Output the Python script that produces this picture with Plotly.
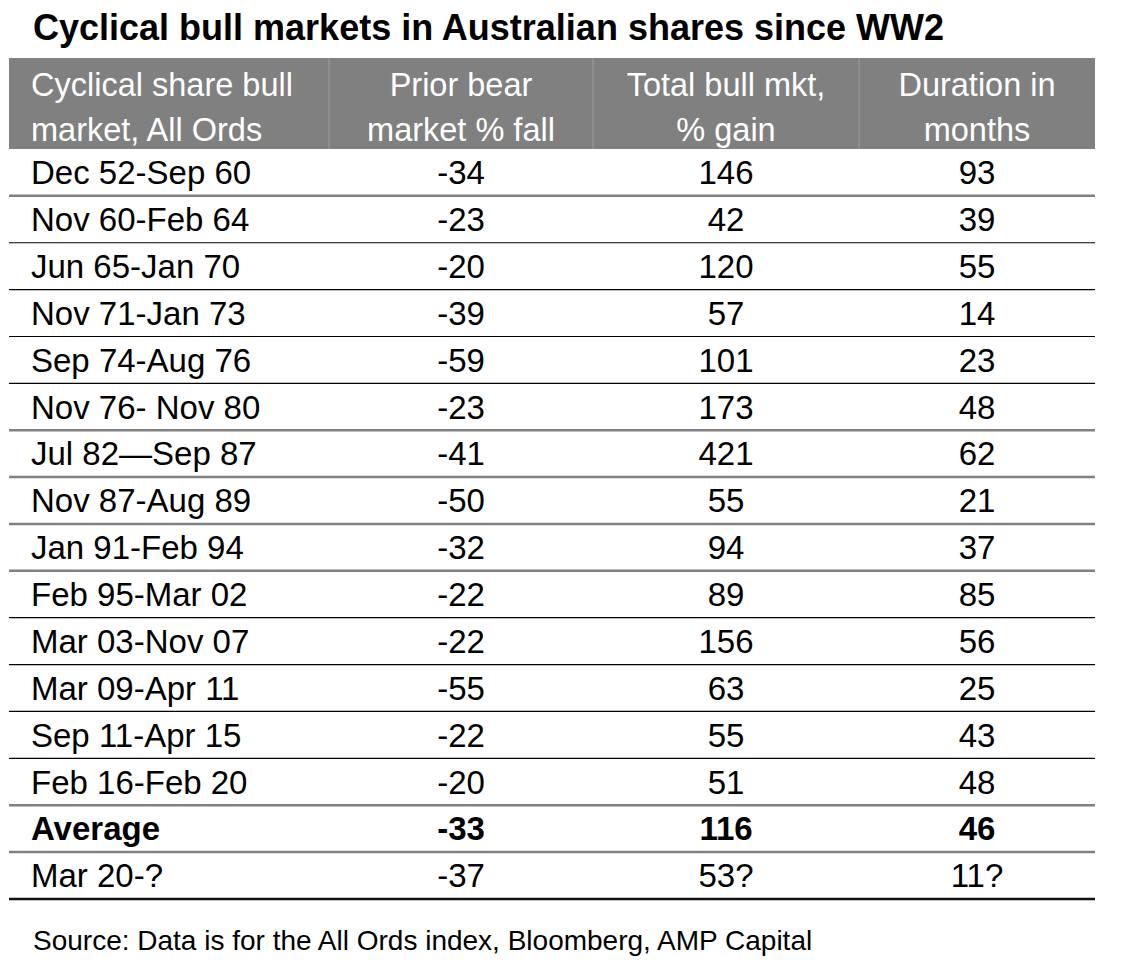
import plotly.graph_objects as go

# 表格数据
title = "Cyclical bull markets in Australian shares since WW2"
source = "Source: Data is for the All Ords index, Bloomberg, AMP Capital"
header_line1 = ["Cyclical share bull", "Prior bear", "Total bull mkt,", "Duration in"]
header_line2 = ["market, All Ords", "market % fall", "% gain", "months"]

periods = ["Dec 52-Sep 60", "Nov 60-Feb 64", "Jun 65-Jan 70", "Nov 71-Jan 73",
           "Sep 74-Aug 76", "Nov 76- Nov 80", "Jul 82\u2014Sep 87", "Nov 87-Aug 89",
           "Jan 91-Feb 94", "Feb 95-Mar 02", "Mar 03-Nov 07", "Mar 09-Apr 11",
           "Sep 11-Apr 15", "Feb 16-Feb 20", "Average", "Mar 20-?"]
prior_fall = [-34, -23, -20, -39, -59, -23, -41, -50, -32, -22, -22, -55, -22, -20, -33, -37]
total_gain = [146, 42, 120, 57, 101, 173, 421, 55, 94, 89, 156, 63, 55, 51, 116, "53?"]
duration = [93, 39, 55, 14, 23, 48, 62, 21, 37, 85, 56, 25, 43, 48, 46, "11?"]

# 样式
bold_rows = [14]
rule_kind = ["g", "k", "k", "k", "k", "g", "g", "g", "g", "k", "k", "k", "k", "g", "g", "K"]
rule_style = {"g": dict(color="#808080", width=2.5),
              "k": dict(color="#000000", width=1.2),
              "K": dict(color="#111111", width=2.5)}

W, H = 1124, 970
OFF = 8  # 页面 body 外边距
left, right = 9, 1095
col_edges = [left, 329, 593, 859, right]
head_top, head_bot = 58, 149
row_h = 46.87
FONT = "Liberation Sans"

n = len(periods)
row_y = [head_bot + row_h * (i + 0.5) + 3.5 for i in range(n)]
head_y = [88, 133]
centers = [(col_edges[j] + col_edges[j + 1]) / 2 for j in range(4)]


def fmt(v, i):
    s = str(v)
    return f"<b>{s}</b>" if i in bold_rows else s


fig = go.Figure()

# 表头文字
fig.add_trace(go.Scatter(
    x=[31] * 2, y=head_y,
    text=[header_line1[0], header_line2[0]],
    mode="text", textposition="middle right",
    textfont=dict(family=FONT, size=32.5, color="white"),
    hoverinfo="skip", showlegend=False))
for j in range(1, 4):
    fig.add_trace(go.Scatter(
        x=[centers[j]] * 2, y=head_y,
        text=[header_line1[j], header_line2[j]],
        mode="text", textposition="middle center",
        textfont=dict(family=FONT, size=32.5, color="white"),
        hoverinfo="skip", showlegend=False))

# 表体文字
fig.add_trace(go.Scatter(
    x=[31] * n, y=row_y,
    text=[fmt(v, i) for i, v in enumerate(periods)],
    mode="text", textposition="middle right",
    textfont=dict(family=FONT, size=33, color="black"),
    hoverinfo="skip", showlegend=False))
for j, col in zip(range(1, 4), [prior_fall, total_gain, duration]):
    fig.add_trace(go.Scatter(
        x=[centers[j]] * n, y=row_y,
        text=[fmt(v, i) for i, v in enumerate(col)],
        mode="text", textposition="middle center",
        textfont=dict(family=FONT, size=33, color="black"),
        hoverinfo="skip", showlegend=False))

shapes = [dict(type="rect", xref="x", yref="y", x0=left, x1=right,
               y0=head_top, y1=head_bot, fillcolor="#808080", line=dict(width=0), layer="below")]
for xe in col_edges[1:-1]:
    shapes.append(dict(type="line", xref="x", yref="y", x0=xe, x1=xe,
                       y0=head_top, y1=head_bot, line=dict(color="#9c9c9c", width=1)))
for i, k in enumerate(rule_kind):
    yy = head_bot + row_h * (i + 1)
    shapes.append(dict(type="line", xref="x", yref="y", x0=left, x1=right,
                       y0=yy, y1=yy, line=rule_style[k]))

fig.update_layout(
    width=W, height=H,
    margin=dict(l=0, r=0, t=0, b=0),
    paper_bgcolor="white", plot_bgcolor="white",
    xaxis=dict(range=[OFF, W + OFF], visible=False, fixedrange=True),
    yaxis=dict(range=[H + OFF, OFF], visible=False, fixedrange=True),
    shapes=shapes,
    annotations=[
        dict(text=f"<b>{title}</b>", x=31, y=27, xref="x", yref="y",
             xanchor="left", yanchor="middle", showarrow=False,
             font=dict(family=FONT, size=36, color="black")),
        dict(text=source, x=31, y=940, xref="x", yref="y",
             xanchor="left", yanchor="middle", showarrow=False,
             font=dict(family=FONT, size=28, color="black")),
    ],
)

fig.write_html("out.html")
